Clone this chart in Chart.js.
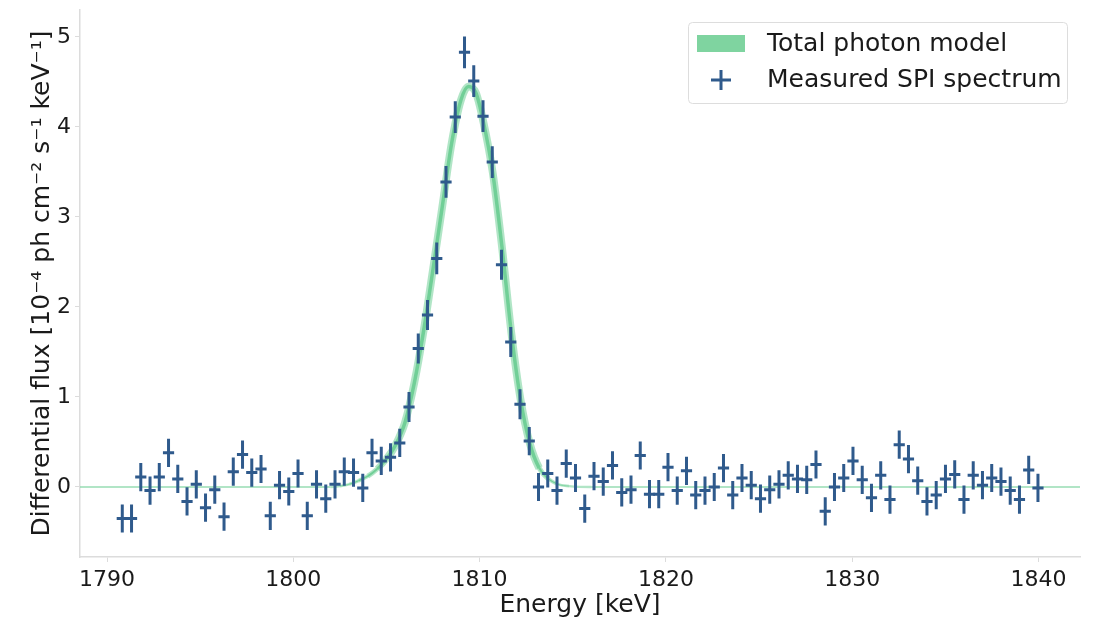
<!DOCTYPE html>
<html lang="en">
<head>
  <meta charset="UTF-8" />
  <title>SPI spectrum</title>
  <script src="https://cdn.jsdelivr.net/npm/chart.js"></script>
  <style>
    body {
      margin: 0;
      background: #ffffff;
    }
    .wrap {
      width: 1094px;
      height: 620px;
    }
  </style>
</head>
<body>
  <div class="wrap">
    <canvas id="spectrumChart" width="1094" height="620"></canvas>
  </div>

  <script>
    // measured spectrum: bin centres start + step * i, flux in 1e-4 ph/cm2/s/keV
    const binStart = 1790.82;
    const binStep = 0.4965;
    const flux = [
      -0.35, -0.35, 0.11, -0.04, 0.11, 0.38, 0.09, -0.16, 0.03, -0.23,
      -0.03, -0.33, 0.17, 0.36, 0.16, 0.20, -0.32, 0.02, -0.05, 0.15,
      -0.32, 0.03, -0.13, 0.03, 0.17, 0.16, -0.01, 0.38, 0.29, 0.33,
      0.49, 0.89, 1.54, 1.91, 2.54, 3.39, 4.11, 4.83, 4.51, 4.12,
      3.61, 2.47, 1.61, 0.92, 0.51, 0.00, 0.15, -0.04, 0.26, 0.10,
      -0.24, 0.12, 0.06, 0.24, -0.06, -0.03, 0.35, -0.08, -0.08, 0.22,
      -0.04, 0.18, -0.09, -0.04, 0.00, 0.21, -0.09, 0.10, 0.02, -0.13,
      -0.03, 0.03, 0.13, 0.09, 0.08, 0.25, -0.27, 0.00, 0.10, 0.29,
      0.08, -0.12, 0.13, -0.14, 0.47, 0.31, 0.07, -0.16, -0.09, 0.09,
      0.14, -0.14, 0.13, 0.02, 0.10, 0.06, -0.04, -0.14, 0.19, -0.01
    ];
    const fluxErr = [
      0.14, 0.14, 0.14, 0.14, 0.14, 0.14, 0.14, 0.14, 0.14, 0.14,
      0.14, 0.14, 0.14, 0.14, 0.14, 0.14, 0.14, 0.14, 0.14, 0.14,
      0.14, 0.14, 0.14, 0.14, 0.14, 0.14, 0.14, 0.14, 0.14, 0.14,
      0.14, 0.15, 0.15, 0.15, 0.16, 0.16, 0.16, 0.16, 0.16, 0.16,
      0.16, 0.15, 0.15, 0.15, 0.14, 0.14, 0.14, 0.14, 0.14, 0.14,
      0.14, 0.14, 0.14, 0.14, 0.14, 0.14, 0.14, 0.14, 0.14, 0.14,
      0.14, 0.14, 0.14, 0.14, 0.14, 0.14, 0.14, 0.14, 0.14, 0.14,
      0.14, 0.14, 0.14, 0.14, 0.14, 0.14, 0.14, 0.14, 0.14, 0.14,
      0.14, 0.14, 0.14, 0.14, 0.14, 0.14, 0.14, 0.14, 0.14, 0.14,
      0.14, 0.14, 0.14, 0.14, 0.14, 0.14, 0.14, 0.14, 0.14, 0.14
    ];
    const binHalfWidth = 0.22;

    // total photon model
    const modelEnergy = [1788.5, 1800, 1802, 1802.5, 1803, 1803.5, 1804, 1804.5, 1805, 1805.5,
      1806, 1806.5, 1807, 1807.5, 1808, 1808.5, 1809, 1809.4, 1809.8, 1810.2,
      1810.7, 1811.2, 1811.7, 1812.2, 1812.7, 1813.2, 1813.7, 1814.2, 1814.8, 1816, 1842.3];
    const modelFlux = [0, 0, 0, 0.01, 0.03, 0.07, 0.12, 0.20, 0.31, 0.47,
      0.72, 1.16, 1.74, 2.42, 3.12, 3.82, 4.30, 4.45, 4.38, 4.06,
      3.50, 2.67, 1.72, 0.97, 0.48, 0.21, 0.09, 0.03, 0.01, 0, 0];

    const xTicks = [1790, 1800, 1810, 1820, 1830, 1840];
    const yTicks = [0, 1, 2, 3, 4, 5];

    const labelModel = 'Total photon model';
    const labelData = 'Measured SPI spectrum';

    const dataBlue = '#2f5a8c';
    const spine = '#dcdcdc';

    const energies = flux.map((_, i) => binStart + binStep * i);
    const points = flux.map((v, i) => ({ x: energies[i], y: v }));
    const modelPoints = modelEnergy.map((e, i) => ({ x: e, y: modelFlux[i] }));

    // width of the model band grows where the model is above zero
    const segTop = ctx => Math.max(ctx.p0.parsed.y, ctx.p1.parsed.y);
    const bandWidth = (ctx, base, extra) => base + extra * Math.min(1, segTop(ctx) / 0.4);

    const errorBars = {
      id: 'errorBars',
      afterDatasetsDraw(chart) {
        const { ctx, chartArea, scales: { x, y } } = chart;
        ctx.save();
        ctx.beginPath();
        ctx.rect(chartArea.left, chartArea.top, chartArea.right - chartArea.left, chartArea.bottom - chartArea.top);
        ctx.clip();
        ctx.strokeStyle = dataBlue;
        ctx.lineWidth = 3;
        ctx.lineCap = 'square';
        points.forEach((p, i) => {
          const px = x.getPixelForValue(p.x);
          const py = y.getPixelForValue(p.y);
          ctx.beginPath();
          ctx.moveTo(px, y.getPixelForValue(p.y - fluxErr[i]));
          ctx.lineTo(px, y.getPixelForValue(p.y + fluxErr[i]));
          ctx.moveTo(x.getPixelForValue(p.x - binHalfWidth), py);
          ctx.lineTo(x.getPixelForValue(p.x + binHalfWidth), py);
          ctx.stroke();
        });
        ctx.restore();
      }
    };

    const boxLegend = {
      id: 'boxLegend',
      afterDraw(chart) {
        const { ctx, chartArea } = chart;
        const bx = chartArea.right - 392, by = chartArea.top + 12;
        const bw = 379, bh = 81;
        ctx.save();
        ctx.fillStyle = 'rgba(255,255,255,0.85)';
        ctx.strokeStyle = '#dddddd';
        ctx.lineWidth = 1;
        ctx.beginPath();
        ctx.roundRect(bx + 0.5, by + 0.5, bw, bh, 4);
        ctx.fill();
        ctx.stroke();

        ctx.fillStyle = '#7fd4a0';
        ctx.fillRect(bx + 9, by + 13, 48, 17);

        ctx.strokeStyle = dataBlue;
        ctx.lineWidth = 3;
        ctx.beginPath();
        ctx.moveTo(bx + 23, by + 58);
        ctx.lineTo(bx + 43, by + 58);
        ctx.moveTo(bx + 33, by + 48);
        ctx.lineTo(bx + 33, by + 68);
        ctx.stroke();

        ctx.fillStyle = '#1a1a1a';
        ctx.font = '25px "DejaVu Sans"';
        ctx.textBaseline = 'middle';
        ctx.fillText(labelModel, bx + 79, by + 22);
        ctx.fillText(labelData, bx + 79, by + 58);
        ctx.restore();
      }
    };

    Chart.defaults.font.family = '"DejaVu Sans", sans-serif';
    Chart.defaults.color = '#1a1a1a';

    new Chart(document.getElementById('spectrumChart').getContext('2d'), {
      type: 'scatter',
      data: {
        datasets: [
          {
            label: labelModel,
            data: modelPoints,
            showLine: true,
            pointRadius: 0,
            borderColor: 'rgba(125, 212, 160, 0.6)',
            borderWidth: 2.2,
            cubicInterpolationMode: 'monotone',
            segment: { borderWidth: ctx => bandWidth(ctx, 2.2, 5.5) }
          },
          {
            label: labelModel + ' core',
            data: modelPoints,
            showLine: true,
            pointRadius: 0,
            borderColor: 'rgba(80, 195, 125, 0.9)',
            borderWidth: 1,
            cubicInterpolationMode: 'monotone',
            segment: {
              borderWidth: ctx => bandWidth(ctx, 0.5, 3),
              borderColor: ctx => segTop(ctx) < 0.02 ? 'rgba(0,0,0,0)' : 'rgba(80, 195, 125, 0.9)'
            }
          },
          {
            label: labelData,
            data: points,
            pointRadius: 0,
            pointHoverRadius: 0
          }
        ]
      },
      options: {
        responsive: false,
        animation: false,
        layout: { padding: { top: 10, right: 14, left: 0, bottom: 0 } },
        plugins: {
          legend: { display: false },
          tooltip: { enabled: false }
        },
        scales: {
          x: {
            type: 'linear',
            min: 1788.55,
            max: 1842.23,
            afterBuildTicks: s => { s.ticks = xTicks.map(v => ({ value: v })); },
            afterFit: s => { s.height = 63; s.paddingLeft = 0; s.paddingRight = 0; },
            grid: { display: true, drawOnChartArea: false, drawTicks: true, tickLength: 5, color: spine },
            border: { display: true, color: spine, width: 1.5 },
            ticks: { font: { size: 22 }, padding: 5, color: '#1a1a1a', callback: v => String(v) },
            title: { display: true, text: 'Energy [keV]', font: { size: 25 }, padding: { top: 0, bottom: 0 } }
          },
          y: {
            type: 'linear',
            min: -0.778,
            max: 5.3,
            afterBuildTicks: s => { s.ticks = yTicks.map(v => ({ value: v })); },
            afterFit: s => { s.width = 80; s.paddingTop = 0; s.paddingBottom = 0; },
            grid: { display: true, drawOnChartArea: false, drawTicks: true, tickLength: 5, color: spine },
            border: { display: true, color: spine, width: 1.5 },
            ticks: { font: { size: 22 }, padding: 4, color: '#1a1a1a', callback: v => String(v) },
            title: {
              display: true,
              text: 'Differential flux [10⁻⁴ ph cm⁻² s⁻¹ keV⁻¹]',
              font: { size: 25 },
              padding: { top: 27, bottom: 0 }
            }
          }
        }
      },
      plugins: [errorBars, boxLegend]
    });
  </script>
</body>
</html>
